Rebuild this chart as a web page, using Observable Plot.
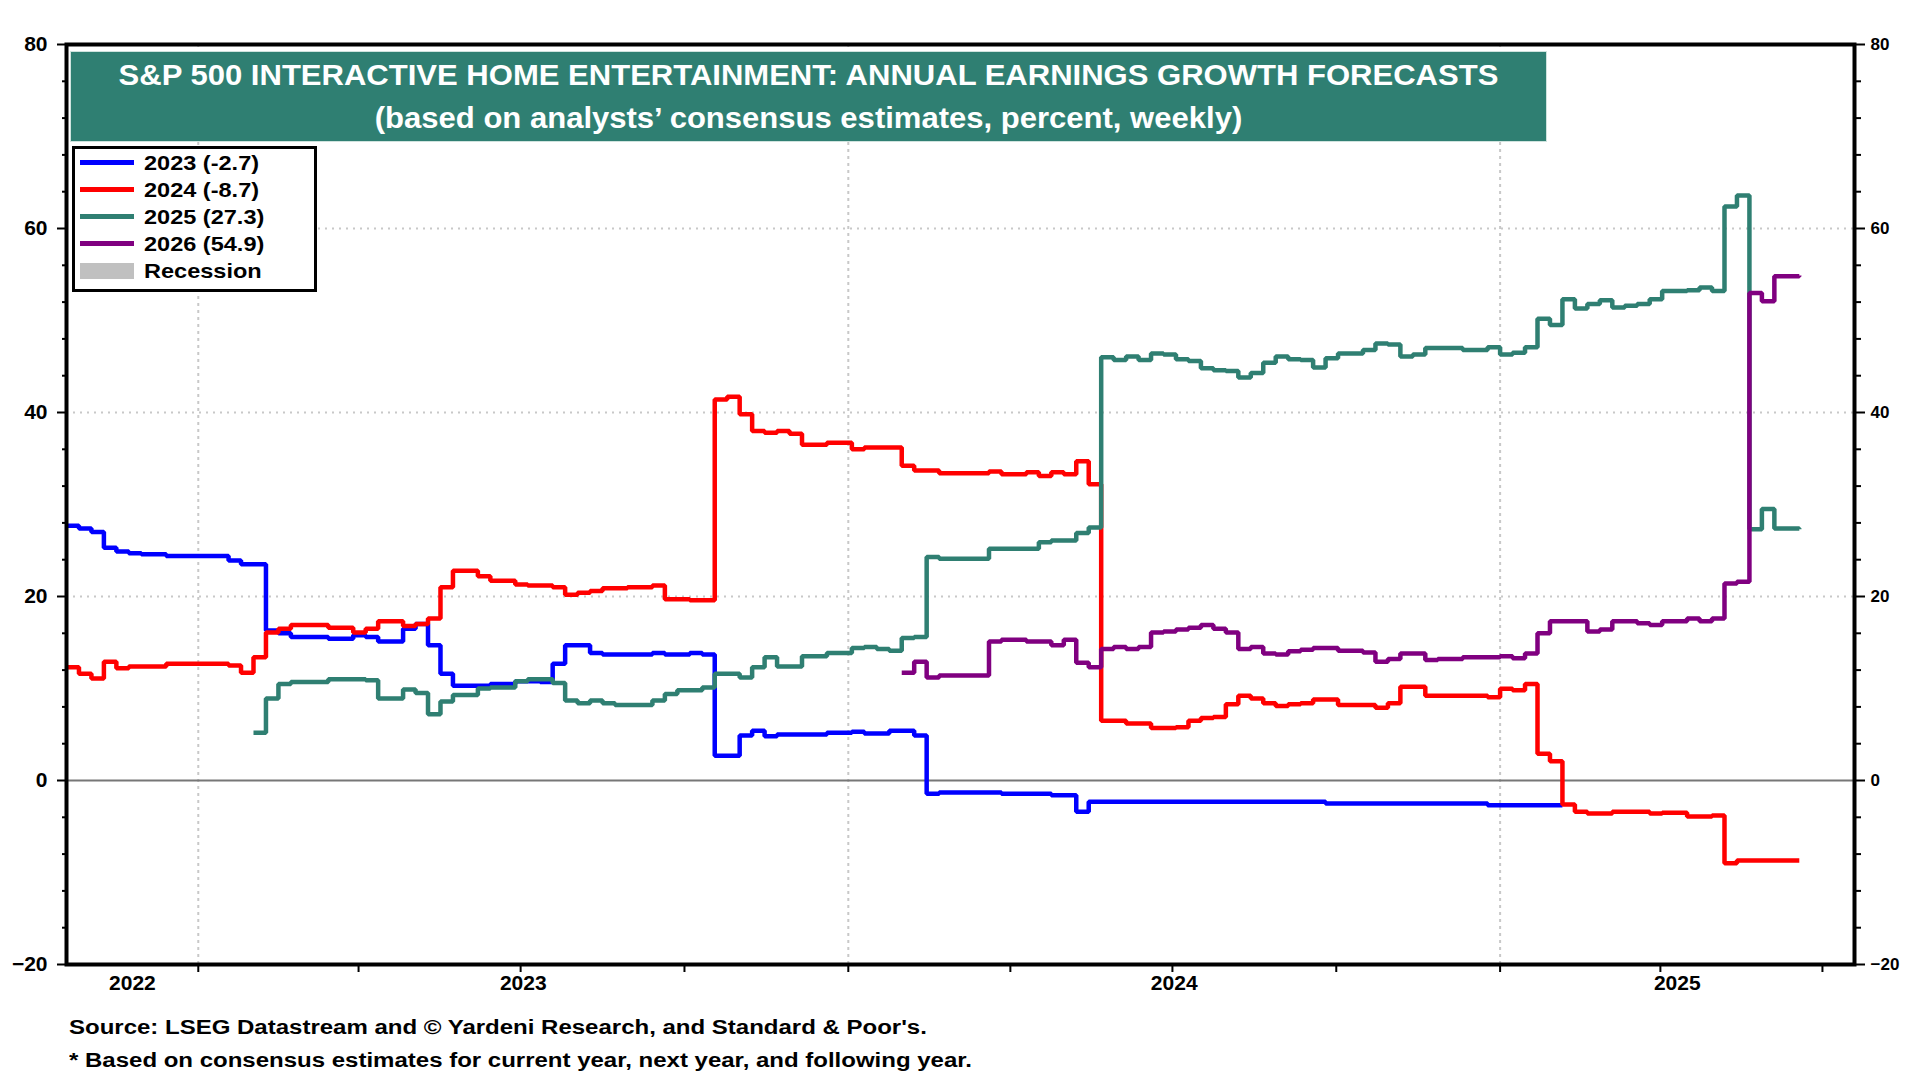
<!DOCTYPE html>
<html>
<head>
<meta charset="utf-8">
<script src="https://cdn.jsdelivr.net/npm/d3@7"></script>
<script src="https://cdn.jsdelivr.net/npm/@observablehq/plot@0.6"></script>
<style>
  body { margin: 0; background: #fff; }
  #wrap { position: relative; width: 1920px; height: 1080px; font-family: "Liberation Sans", Arial, sans-serif; font-weight: bold; color: #000; overflow: hidden; }
  #chart { position: absolute; left: 0; top: 0; }
  #banner { position: absolute; left: 71px; top: 52px; width: 1475px; height: 89px; background: #2F7F72; color: #fff; font-size: 29px; box-shadow: 0 0 0 1px #cfe3de; }
  #banner div { position: absolute; left: 0; width: 100%; text-align: center; line-height: 34px; white-space: nowrap; transform: scaleX(1.07); transform-origin: 50% 50%; }
  #legend { position: absolute; left: 72px; top: 146px; width: 234px; height: 140px; border: 3px solid #000; background: #fff; padding: 0 0 0 5px; box-sizing: content-box; }
  .row { height: 27px; line-height: 27px; font-size: 21px; white-space: nowrap; display: flex; align-items: center; }
  .sw { display: inline-block; width: 54px; height: 5px; margin-right: 10px; flex: none; }
  .lt { display: inline-block; transform: scaleX(1.12); transform-origin: 0 50%; }
  .caption { position: absolute; left: 69px; font-size: 20px; line-height: 24px; white-space: nowrap; transform: scaleX(1.2); transform-origin: 0 50%; }
</style>
</head>
<body>
<div id="wrap">
  <div id="chart"></div>
  <div id="banner">
    <div id="t1" style="top:6px"></div>
    <div id="t2" style="top:49px"></div>
  </div>
  <div id="legend"></div>
  <div class="caption" id="c1" style="top:1015px"></div>
  <div class="caption" id="c2" style="top:1048px"></div>
</div>
<script>
// ---------------- text ----------------
const titleText = "S&P 500 INTERACTIVE HOME ENTERTAINMENT: ANNUAL EARNINGS GROWTH FORECASTS";
const subtitleText = "(based on analysts\u2019 consensus estimates, percent, weekly)";
const sourceText = "Source: LSEG Datastream and \u00A9 Yardeni Research, and Standard & Poor's.";
const noteText = "* Based on consensus estimates for current year, next year, and following year.";

// ---------------- scales / ticks ----------------
const xDomain = ["2022-10-19", "2025-07-19"];
const yTicks = [-20, 0, 20, 40, 60, 80];
const yMinorTicks = [-16, -12, -8, -4, 4, 8, 12, 16, 24, 28, 32, 36, 44, 48, 52, 56, 64, 68, 72, 76];
const yGrid = [20, 40, 60];
const yearGrid = ["2023-01-01", "2024-01-01", "2025-01-01"];
const yearLabels = ["2022", "2023", "2024", "2025"];

// ---------------- series ----------------
const seriesNames = ["2023", "2024", "2025", "2026"];
const seriesColors = ["#0000FF", "#FF0000", "#2F7F72", "#800080"];
const legendLabels = ["2023 (-2.7)", "2024 (-8.7)", "2025 (27.3)", "2026 (54.9)", "Recession"];

const s2023 = [
  ["2022-10-19",27.7],["2022-10-26",27.4],["2022-11-02",27.0],["2022-11-09",25.3],["2022-11-16",24.9],
  ["2022-11-23",24.7],["2022-11-30",24.6],["2022-12-14",24.4],["2023-01-18",23.9],["2023-01-25",23.5],
  ["2023-02-08",16.3],["2023-02-15",16.0],["2023-02-22",15.6],["2023-03-15",15.4],["2023-03-29",15.8],
  ["2023-04-05",15.6],["2023-04-12",15.1],["2023-04-26",16.5],["2023-05-03",17.0],["2023-05-10",14.7],
  ["2023-05-17",11.6],["2023-05-24",10.3],["2023-06-14",10.5],["2023-06-28",10.8],["2023-07-12",10.7],
  ["2023-07-19",12.7],["2023-07-26",14.7],["2023-08-09",13.85],["2023-08-16",13.7],["2023-09-13",13.85],
  ["2023-09-20",13.7],["2023-10-04",13.85],["2023-10-11",13.7],["2023-10-18",2.7],["2023-11-01",4.9],
  ["2023-11-08",5.4],["2023-11-15",4.8],["2023-11-22",5.0],["2023-12-20",5.2],["2024-01-03",5.3],
  ["2024-01-10",5.1],["2024-01-24",5.4],["2024-02-07",4.9],["2024-02-14",-1.45],["2024-02-21",-1.3],
  ["2024-03-27",-1.45],["2024-04-24",-1.6],["2024-05-08",-3.4],["2024-05-15",-2.3],["2024-09-25",-2.5],
  ["2024-12-25",-2.7],["2025-02-05",-2.7]
];

const s2024 = [
  ["2022-10-19",12.3],["2022-10-26",11.6],["2022-11-02",11.1],["2022-11-09",12.9],["2022-11-16",12.2],
  ["2022-11-23",12.4],["2022-12-14",12.7],["2023-01-18",12.5],["2023-01-25",11.7],["2023-02-01",13.4],
  ["2023-02-08",16.1],["2023-02-15",16.5],["2023-02-22",16.9],["2023-03-15",16.6],["2023-03-29",16.1],
  ["2023-04-05",16.5],["2023-04-12",17.3],["2023-04-26",16.8],["2023-05-03",17.0],["2023-05-10",17.6],
  ["2023-05-17",21.0],["2023-05-24",22.8],["2023-06-07",22.2],["2023-06-14",21.7],["2023-06-28",21.3],
  ["2023-07-05",21.2],["2023-07-19",21.0],["2023-07-26",20.2],["2023-08-02",20.4],["2023-08-09",20.6],
  ["2023-08-16",20.9],["2023-08-30",21.0],["2023-09-13",21.2],["2023-09-20",19.7],["2023-10-04",19.6],
  ["2023-10-18",41.4],["2023-10-25",41.7],["2023-11-01",39.8],["2023-11-08",38.0],["2023-11-15",37.8],
  ["2023-11-22",38.0],["2023-11-29",37.7],["2023-12-06",36.5],["2023-12-20",36.7],["2024-01-03",36.0],
  ["2024-01-10",36.2],["2024-01-31",34.2],["2024-02-07",33.7],["2024-02-21",33.4],["2024-03-20",33.6],
  ["2024-03-27",33.3],["2024-04-10",33.5],["2024-04-17",33.1],["2024-04-24",33.5],["2024-05-01",33.3],
  ["2024-05-08",34.7],["2024-05-15",32.2],["2024-05-22",6.5],["2024-06-05",6.2],["2024-06-19",5.7],
  ["2024-07-03",5.8],["2024-07-10",6.5],["2024-07-17",6.8],["2024-07-24",6.9],["2024-07-31",8.3],
  ["2024-08-07",9.2],["2024-08-14",8.9],["2024-08-21",8.4],["2024-08-28",8.1],["2024-09-04",8.3],
  ["2024-09-11",8.4],["2024-09-18",8.8],["2024-10-02",8.2],["2024-10-23",7.9],["2024-10-30",8.4],
  ["2024-11-06",10.2],["2024-11-20",9.2],["2024-12-25",9.05],["2025-01-01",9.96],["2025-01-08",9.8],
  ["2025-01-15",10.5],["2025-01-22",2.9],["2025-01-29",2.1],["2025-02-05",-2.6],["2025-02-12",-3.4],
  ["2025-02-19",-3.6],["2025-03-05",-3.4],["2025-03-26",-3.6],["2025-04-02",-3.5],["2025-04-16",-3.9],
  ["2025-04-30",-3.8],["2025-05-07",-9.0],["2025-05-14",-8.7],["2025-06-18",-8.7]
];

const s2025 = [
  ["2023-02-01",5.2],["2023-02-08",8.9],["2023-02-15",10.5],["2023-02-22",10.7],["2023-03-15",11.0],
  ["2023-04-05",10.9],["2023-04-12",8.9],["2023-04-26",9.9],["2023-05-03",9.5],["2023-05-10",7.2],
  ["2023-05-17",8.6],["2023-05-24",9.3],["2023-06-07",10.0],["2023-06-14",10.1],["2023-06-28",10.8],
  ["2023-07-05",11.0],["2023-07-19",10.6],["2023-07-26",8.7],["2023-08-02",8.4],["2023-08-09",8.7],
  ["2023-08-16",8.4],["2023-08-23",8.2],["2023-09-13",8.7],["2023-09-20",9.4],["2023-09-27",9.8],
  ["2023-10-11",10.1],["2023-10-18",11.6],["2023-11-01",11.2],["2023-11-08",12.3],["2023-11-15",13.4],
  ["2023-11-22",12.4],["2023-12-06",13.5],["2023-12-20",13.85],["2024-01-03",14.4],["2024-01-10",14.5],
  ["2024-01-17",14.3],["2024-01-24",14.1],["2024-01-31",15.5],["2024-02-07",15.6],["2024-02-14",24.3],
  ["2024-02-21",24.1],["2024-03-20",25.2],["2024-04-17",25.9],["2024-04-24",26.1],["2024-05-08",26.9],
  ["2024-05-15",27.5],["2024-05-22",46.0],["2024-05-29",45.7],["2024-06-05",46.1],["2024-06-12",45.7],
  ["2024-06-19",46.4],["2024-06-26",46.3],["2024-07-03",45.8],["2024-07-10",45.6],["2024-07-17",44.8],
  ["2024-07-24",44.6],["2024-07-31",44.5],["2024-08-07",43.8],["2024-08-14",44.3],["2024-08-21",45.4],
  ["2024-08-28",46.1],["2024-09-04",45.8],["2024-09-11",45.7],["2024-09-18",44.9],["2024-09-25",45.9],
  ["2024-10-02",46.4],["2024-10-16",46.8],["2024-10-23",47.5],["2024-10-30",47.4],["2024-11-06",46.1],
  ["2024-11-13",46.3],["2024-11-20",47.0],["2024-12-11",46.8],["2024-12-25",47.1],["2025-01-01",46.3],
  ["2025-01-08",46.5],["2025-01-15",47.1],["2025-01-22",50.2],["2025-01-29",49.5],["2025-02-05",52.3],
  ["2025-02-12",51.3],["2025-02-19",51.8],["2025-02-26",52.2],["2025-03-05",51.4],["2025-03-12",51.6],
  ["2025-03-19",51.8],["2025-03-26",52.3],["2025-04-02",53.2],["2025-04-16",53.3],["2025-04-23",53.6],
  ["2025-04-30",53.2],["2025-05-07",62.4],["2025-05-14",63.6],["2025-05-21",27.3],["2025-05-28",29.5],
  ["2025-06-04",27.4],["2025-06-18",27.3]
];

const s2026 = [
  ["2024-01-31",11.7],["2024-02-07",12.9],["2024-02-14",11.2],["2024-02-21",11.4],["2024-03-20",15.1],
  ["2024-03-27",15.3],["2024-04-10",15.1],["2024-04-24",14.7],["2024-05-01",15.3],["2024-05-08",12.8],
  ["2024-05-15",12.3],["2024-05-22",14.3],["2024-05-29",14.5],["2024-06-05",14.3],["2024-06-12",14.5],
  ["2024-06-19",16.1],["2024-06-26",16.2],["2024-07-03",16.4],["2024-07-10",16.6],["2024-07-17",16.9],
  ["2024-07-24",16.5],["2024-07-31",16.1],["2024-08-07",14.3],["2024-08-14",14.5],["2024-08-21",13.8],
  ["2024-08-28",13.7],["2024-09-04",14.05],["2024-09-11",14.2],["2024-09-18",14.4],["2024-10-02",14.1],
  ["2024-10-16",13.9],["2024-10-23",12.9],["2024-10-30",13.2],["2024-11-06",13.8],["2024-11-20",13.1],
  ["2024-11-27",13.2],["2024-12-11",13.4],["2025-01-01",13.5],["2025-01-08",13.3],["2025-01-15",13.8],
  ["2025-01-22",16.0],["2025-01-29",17.3],["2025-02-19",16.2],["2025-02-26",16.4],["2025-03-05",17.3],
  ["2025-03-19",17.1],["2025-03-26",16.9],["2025-04-02",17.3],["2025-04-16",17.6],["2025-04-23",17.3],
  ["2025-04-30",17.6],["2025-05-07",21.4],["2025-05-14",21.6],["2025-05-21",53.0],["2025-05-28",52.1],
  ["2025-06-04",54.8],["2025-06-18",54.9]
];

// ---------------- build ----------------
const parse = d3.utcParse("%Y-%m-%d");
const allSeries = [s2023, s2024, s2025, s2026];
const tables = allSeries.map((s, i) => s.map(([d, v]) => ({series: seriesNames[i], date: parse(d), value: v})));

const x0 = parse(xDomain[0]), x1 = parse(xDomain[1]);
const labelPos = yearLabels.map(y => {
  const a = new Date(Math.max(+x0, Date.UTC(+y, 0, 1)));
  const b = new Date(Math.min(+x1, Date.UTC(+y + 1, 0, 1)));
  return {label: y, date: new Date((+a + +b) / 2)};
});
const quarterTicks = d3.utcMonth.every(3).range(x0, x1);

const chart = Plot.plot({
  width: 1920,
  height: 1000,
  marginLeft: 66,
  marginRight: 66,
  marginTop: 44,
  marginBottom: 36,
  style: {fontFamily: "'Liberation Sans', Arial, sans-serif", fontWeight: "bold", overflow: "visible", background: "transparent"},
  x: {type: "utc", domain: [x0, x1]},
  y: {domain: [-20, 80]},
  marks: [
    Plot.ruleY(yGrid, {stroke: "#c8c8c8", strokeWidth: 2, strokeDasharray: "2,5"}),
    Plot.ruleX(yearGrid.map(parse), {stroke: "#c8c8c8", strokeWidth: 2, strokeDasharray: "3,4"}),
    Plot.ruleY([0], {stroke: "#777", strokeWidth: 2}),
    ...tables.map((t, i) => Plot.line(t, {x: "date", y: "value", stroke: seriesColors[i], strokeWidth: 4.5, curve: "step-after", strokeLinejoin: "miter", strokeLinecap: "butt"})),
    Plot.frame({stroke: "#000", strokeWidth: 4}),
    Plot.axisY({anchor: "left", ticks: yTicks, tickSize: 9, tickPadding: 10, fontSize: 21, strokeWidth: 2, label: null}),
    Plot.axisY({anchor: "left", ticks: yMinorTicks, tickSize: 4, text: null, strokeWidth: 2, label: null}),
    Plot.axisY({anchor: "right", ticks: yTicks, tickSize: 10, tickPadding: 6, fontSize: 17, strokeWidth: 2, label: null}),
    Plot.axisY({anchor: "right", ticks: yMinorTicks, tickSize: 6, text: null, strokeWidth: 2, label: null}),
    Plot.axisX({ticks: quarterTicks, tickSize: 8, text: null, strokeWidth: 2, label: null}),
    Plot.text(labelPos, {x: "date", text: "label", frameAnchor: "bottom", dy: 25, fontSize: 21, fill: "#000"})
  ]
});
document.getElementById("chart").appendChild(chart);

// ---------------- html text ----------------
document.getElementById("t1").textContent = titleText;
document.getElementById("t2").textContent = subtitleText;
document.getElementById("c1").textContent = sourceText;
document.getElementById("c2").textContent = noteText;

const legend = document.getElementById("legend");
legendLabels.forEach((lab, i) => {
  const row = document.createElement("div");
  row.className = "row";
  const sw = document.createElement("span");
  sw.className = "sw";
  if (i < seriesColors.length) {
    sw.style.background = seriesColors[i];
  } else {
    sw.style.background = "#c0c0c0";
    sw.style.height = "16px";
  }
  row.appendChild(sw);
  const tx = document.createElement("span");
  tx.className = "lt";
  tx.textContent = lab;
  row.appendChild(tx);
  legend.appendChild(row);
});
</script>
</body>
</html>
